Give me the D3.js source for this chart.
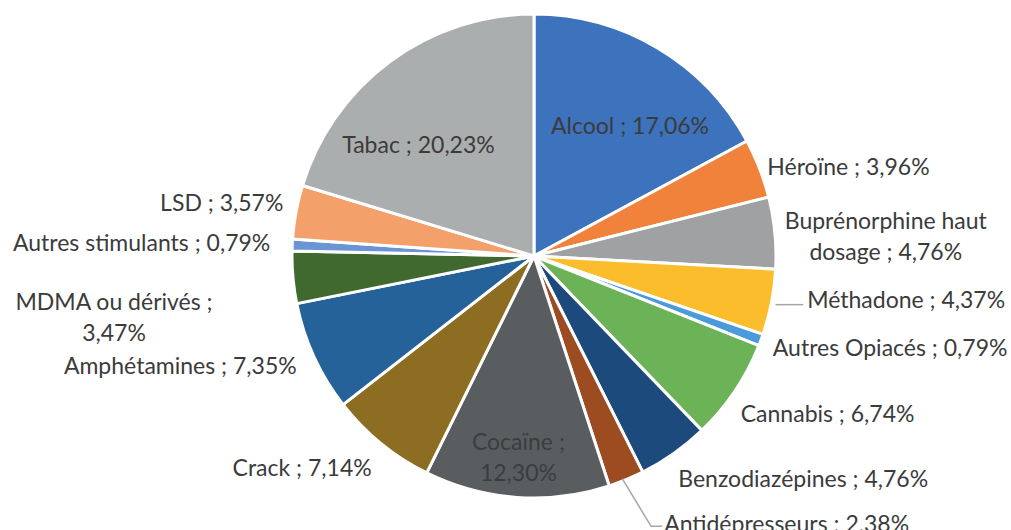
<!DOCTYPE html>
<html>
<head>
<meta charset="utf-8">
<script src="https://cdn.jsdelivr.net/npm/d3@7/dist/d3.min.js"></script>
<style>
  html, body { margin: 0; padding: 0; background: #fff; }
  svg { display: block; }
  text { font-family: Lato, "Open Sans", sans-serif; fill: #3b3b3b; }
</style>
</head>
<body>
<svg id="chart" width="1011" height="530"></svg>
<script>
// Substances and their shares (%)
const substances = [
  "Alcool", "Héroïne", "Buprénorphine haut dosage", "Méthadone", "Autres Opiacés",
  "Cannabis", "Benzodiazépines", "Antidépresseurs", "Cocaïne", "Crack",
  "Amphétamines", "MDMA ou dérivés", "Autres stimulants", "LSD", "Tabac"
];
const shares = [17.06, 3.96, 4.76, 4.37, 0.79, 6.74, 4.76, 2.38, 12.30, 7.14, 7.35, 3.47, 0.79, 3.57, 20.23];
const labelLines = [
  ["Alcool ; 17,06%"], ["Héroïne ; 3,96%"], ["Buprénorphine haut", "dosage ; 4,76%"],
  ["Méthadone ; 4,37%"], ["Autres Opiacés ; 0,79%"], ["Cannabis ; 6,74%"],
  ["Benzodiazépines ; 4,76%"], ["Antidépresseurs ; 2,38%"], ["Cocaïne ;", "12,30%"],
  ["Crack ; 7,14%"], ["Amphétamines ; 7,35%"], ["MDMA ou dérivés ;", "3,47%"],
  ["Autres stimulants ; 0,79%"], ["LSD ; 3,57%"], ["Tabac ; 20,23%"]
];
const colors = [
  "#3d72bd", "#f0823b", "#9fa1a3", "#fbbd2c", "#4b9bda",
  "#6cb257", "#1d4a7c", "#9d4b20", "#5a5d5f", "#8c6d22",
  "#25629a", "#406930", "#6a94d4", "#f3a06b", "#abaeaf"
];

// Label placement: inside/outside, anchor, nudge (dx, dy), leader line
const labelLayout = [
  { inside: true,  anchor: "middle", dx: 13,   dy: 8 },
  { inside: false, anchor: "start",  dx: -9,   dy: 4 },
  { inside: false, anchor: "middle", dx: 93,   dy: 4 },
  { inside: false, anchor: "start",  dx: 18,   dy: -7, leader: "flat" },
  { inside: false, anchor: "start",  dx: -5,   dy: 1 },
  { inside: false, anchor: "start",  dx: -9,   dy: 12 },
  { inside: false, anchor: "start",  dx: -6,   dy: 10 },
  { inside: false, anchor: "start",  dx: 31,   dy: 27, leader: "elbow" },
  { inside: true,  anchor: "middle", dx: -4,   dy: 39 },
  { inside: false, anchor: "end",    dx: 2,    dy: 10 },
  { inside: false, anchor: "end",    dx: -1,   dy: 1 },
  { inside: false, anchor: "middle", dx: -161, dy: 37 },
  { inside: false, anchor: "end",    dx: -4,   dy: -2 },
  { inside: false, anchor: "end",    dx: 5,    dy: -7 },
  { inside: true,  anchor: "middle", dx: -19,  dy: 18 }
];

const svg = d3.select("#chart");
const cx = 534, cy = 256, R = 242;
const fontSize = 23, lineH = 31;

const data = substances.map((name, i) => ({ name, value: shares[i], i }));
const pie = d3.pie().sort(null).value(d => d.value);
const arcs = pie(data);
const arc = d3.arc().innerRadius(0).outerRadius(R);

const g = svg.append("g").attr("transform", `translate(${cx},${cy})`);

g.selectAll("path.slice")
  .data(arcs)
  .join("path")
  .attr("class", "slice")
  .attr("d", arc)
  .attr("fill", d => colors[d.data.i])
  .attr("stroke", "#fff")
  .attr("stroke-width", 3)
  .attr("stroke-linejoin", "round");

function polar(angle, r) {
  return [r * Math.sin(angle), -r * Math.cos(angle)];
}

arcs.forEach(a => {
  const i = a.data.i;
  const lay = labelLayout[i];
  const mid = (a.startAngle + a.endAngle) / 2;
  const base = polar(mid, lay.inside ? R * 0.67 : R + 18);
  const x = base[0] + lay.dx, y = base[1] + lay.dy;
  const lines = labelLines[i];
  const top = y - (lines.length - 1) * lineH / 2;

  const t = g.append("text")
    .attr("text-anchor", lay.anchor)
    .attr("font-size", fontSize)
    .attr("dominant-baseline", "central");
  if (lay.inside && i === 8) t.style("fill", "#3a3d3f");
  lines.forEach((ln, k) => {
    t.append("tspan").attr("x", x).attr("y", top + k * lineH).text(ln);
  });

  if (lay.leader) {
    const edge = polar(mid, R);
    let pts;
    if (lay.leader === "flat") {
      pts = [[edge[0] + 4, y + 6], [x - 4, y + 6]];
    } else {
      pts = [[edge[0] - 4, edge[1] - 1], [x - 13, y + 3], [x - 2, y + 3]];
    }
    g.append("path")
      .attr("d", d3.line()(pts))
      .attr("fill", "none")
      .attr("stroke", "#a6a6a6")
      .attr("stroke-width", 1.5);
  }
});
</script>
</body>
</html>
